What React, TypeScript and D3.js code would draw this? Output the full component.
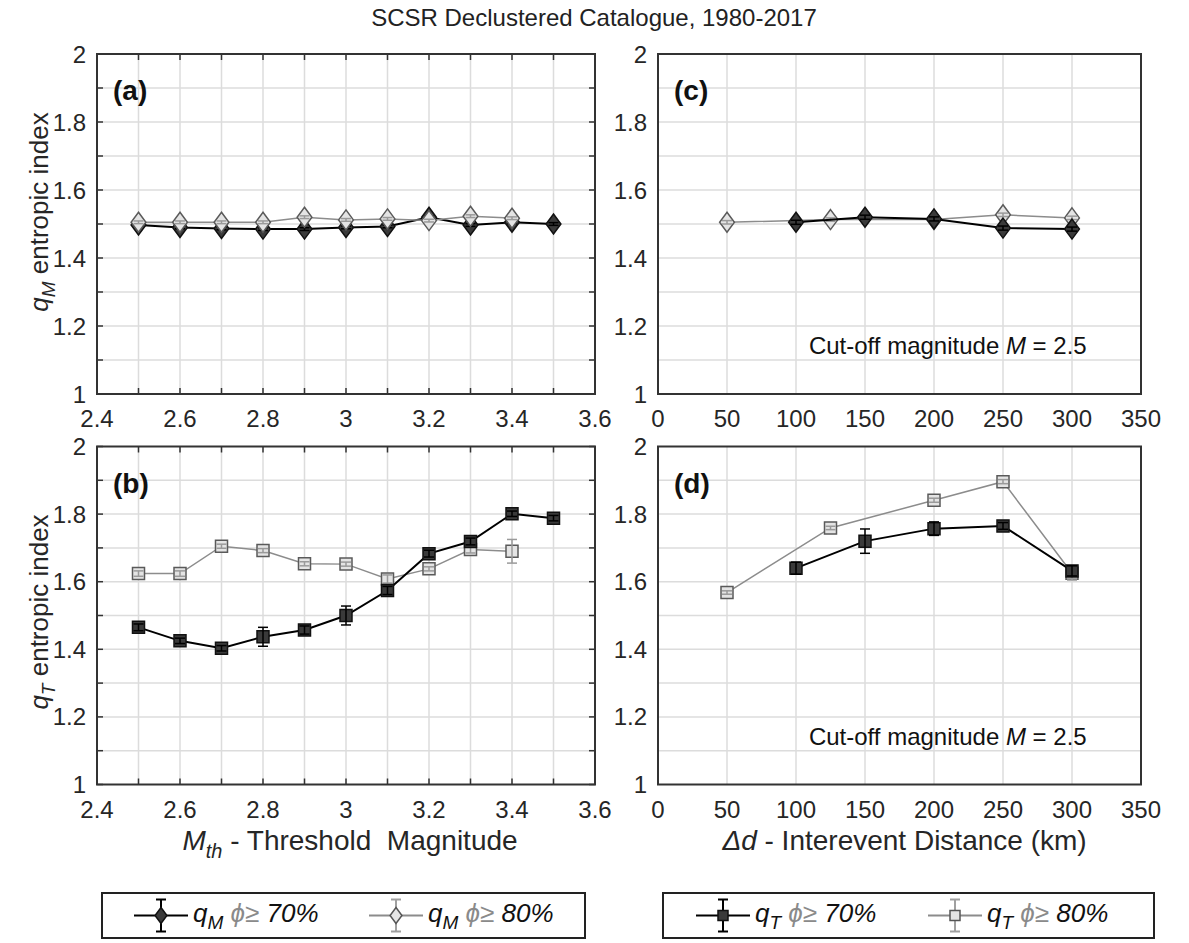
import React from "react";
import * as d3 from "d3";

// ---------------- DATA ----------------
const mthAll = [2.5, 2.6, 2.7, 2.8, 2.9, 3.0, 3.1, 3.2, 3.3, 3.4, 3.5];
const mth80 = [2.5, 2.6, 2.7, 2.8, 2.9, 3.0, 3.1, 3.2, 3.3, 3.4];

const qM70 = [1.497, 1.49, 1.487, 1.485, 1.485, 1.49, 1.493, 1.52, 1.497, 1.505, 1.5];
const qM70err = [0.004, 0.004, 0.004, 0.004, 0.004, 0.004, 0.004, 0.004, 0.004, 0.004, 0.004];
const qM80 = [1.505, 1.505, 1.505, 1.505, 1.52, 1.512, 1.515, 1.51, 1.523, 1.517];
const qM80err = [0.004, 0.004, 0.004, 0.004, 0.004, 0.004, 0.004, 0.004, 0.004, 0.004];

const qT70 = [1.465, 1.425, 1.403, 1.437, 1.457, 1.5, 1.574, 1.683, 1.719, 1.801, 1.788];
const qT70err = [0.01, 0.008, 0.008, 0.028, 0.012, 0.028, 0.012, 0.01, 0.01, 0.008, 0.008];
const qT80 = [1.624, 1.624, 1.705, 1.692, 1.653, 1.652, 1.608, 1.638, 1.695, 1.69];
const qT80err = [0.008, 0.008, 0.006, 0.006, 0.006, 0.006, 0.012, 0.006, 0.01, 0.035];

const dist70 = [100, 150, 200, 250, 300];
const dist80 = [50, 125, 200, 250, 300];
const qMd70 = [1.505, 1.52, 1.515, 1.488, 1.485];
const qMd70err = [0.006, 0.006, 0.006, 0.006, 0.006];
const qMd80 = [1.505, 1.513, 1.513, 1.527, 1.518];
const qMd80err = [0.005, 0.005, 0.005, 0.005, 0.005];

const qTd70 = [1.64, 1.72, 1.757, 1.765, 1.632];
const qTd70err = [0.018, 0.036, 0.02, 0.01, 0.015];
const qTd80 = [1.568, 1.759, 1.841, 1.896, 1.625];
const qTd80err = [0.005, 0.005, 0.006, 0.006, 0.02];

const mthTicks = [2.4, 2.6, 2.8, 3.0, 3.2, 3.4, 3.6];
const mthGrid = [2.5, 2.6, 2.7, 2.8, 2.9, 3.0, 3.1, 3.2, 3.3, 3.4, 3.5];
const distTicks = [0, 50, 100, 150, 200, 250, 300, 350];
const qTicks = [1, 1.2, 1.4, 1.6, 1.8, 2];
const qGrid = [1.1, 1.2, 1.3, 1.4, 1.5, 1.6, 1.7, 1.8, 1.9];

const TITLE = "SCSR Declustered Catalogue, 1980-2017";
const CUTOFF = "Cut-off magnitude";

// ---------------- LAYOUT ----------------
const W = 1189;
const H = 943;
const FONT = "'Liberation Sans', Arial, Helvetica, sans-serif";
const TXT = "#262626";
const GRID = "#dcdcdc";
const DARK_FILL = "#3a3a3a";
const LIGHT_FILL = "#e4e4e4";
const LIGHT_LINE = "#8c8c8c";

const leftX: [number, number] = [97, 595];
const rightX: [number, number] = [658, 1141];
const topY: [number, number] = [394, 54];
const botY: [number, number] = [784.5, 446.5];

type Series = {
  xs: number[];
  ys: number[];
  errs: number[];
  dark: boolean;
  marker: "diamond" | "square";
};

function markerPath(kind: "diamond" | "square", s: number) {
  if (kind === "diamond") {
    const w = s * 0.74;
    const h = s;
    return `M0,${-h / 2}L${w / 2},0L0,${h / 2}L${-w / 2},0Z`;
  }
  const a = s / 2;
  return `M${-a},${-a}H${a}V${a}H${-a}Z`;
}

function SeriesG({ s, x, y }: { s: Series; x: d3.ScaleLinear<number, number>; y: d3.ScaleLinear<number, number> }) {
  const line = d3
    .line<number>()
    .x((_, i) => x(s.xs[i]))
    .y((v) => y(v));
  const stroke = s.dark ? "#000" : LIGHT_LINE;
  const mStroke = s.dark ? "#111" : "#5a5a5a";
  const fill = s.dark ? DARK_FILL : LIGHT_FILL;
  const size = s.marker === "diamond" ? 20 : 12;
  const cap = 5;
  return (
    <g>
      <path d={line(s.ys) || ""} fill="none" stroke={stroke} strokeWidth={s.dark ? 2 : 1.5} />
      {s.ys.map((v, i) => (
        <path
          key={"m" + i}
          d={markerPath(s.marker, size)}
          transform={`translate(${x(s.xs[i])},${y(v)})`}
          fill={fill}
          stroke={mStroke}
          strokeWidth={1.5}
        />
      ))}
      {s.ys.map((v, i) => {
        const cx = x(s.xs[i]);
        const y1 = y(v - s.errs[i]);
        const y2 = y(v + s.errs[i]);
        return (
          <g key={"e" + i} stroke={s.dark ? "#000" : "#9a9a9a"} strokeWidth={1.5}>
            <line x1={cx} x2={cx} y1={y1} y2={y2} />
            <line x1={cx - cap} x2={cx + cap} y1={y1} y2={y1} />
            <line x1={cx - cap} x2={cx + cap} y1={y2} y2={y2} />
          </g>
        );
      })}
    </g>
  );
}

function Panel({
  xDomain,
  xRange,
  yRange,
  xTicks,
  xGrid,
  series,
  label,
  ticksOnBox,
  note,
}: {
  xDomain: [number, number];
  xRange: [number, number];
  yRange: [number, number];
  xTicks: number[];
  xGrid: number[];
  series: Series[];
  label: string;
  ticksOnBox: boolean;
  note: boolean;
}) {
  const x = d3.scaleLinear().domain(xDomain).range(xRange);
  const y = d3.scaleLinear().domain([1, 2]).range(yRange);
  const [x0, x1] = xRange;
  const [yb, yt] = yRange;
  const minorX = ticksOnBox ? d3.range(xDomain[0], xDomain[1] + 1e-9, 0.1) : [];
  const minorY = ticksOnBox ? d3.range(1, 2 + 1e-9, 0.1) : [];
  const fmt = (v: number) => d3.format("~g")(+v.toFixed(2));
  return (
    <g>
      {xGrid.map((v) => (
        <line key={"gx" + v} x1={x(v)} x2={x(v)} y1={yt} y2={yb} stroke={GRID} strokeWidth={1.5} />
      ))}
      {qGrid.map((v) => (
        <line key={"gy" + v} x1={x0} x2={x1} y1={y(v)} y2={y(v)} stroke={GRID} strokeWidth={1.5} />
      ))}
      {minorX.map((v, i) => (
        <g key={"tx" + i} stroke="#333" strokeWidth={1.5}>
          <line x1={x(v)} x2={x(v)} y1={yt} y2={yt + 6} />
          <line x1={x(v)} x2={x(v)} y1={yb} y2={yb - 6} />
        </g>
      ))}
      {minorY.map((v, i) => (
        <g key={"ty" + i} stroke="#333" strokeWidth={1.5}>
          <line x1={x0} x2={x0 + 6} y1={y(v)} y2={y(v)} />
          <line x1={x1} x2={x1 - 6} y1={y(v)} y2={y(v)} />
        </g>
      ))}
      <rect x={x0} y={yt} width={x1 - x0} height={yb - yt} fill="none" stroke="#333" strokeWidth={2} />
      {xTicks.map((v) => (
        <text key={"lx" + v} x={x(v)} y={yb + 33} textAnchor="middle" fontSize={24} fill={TXT} fontFamily={FONT}>
          {fmt(v)}
        </text>
      ))}
      {qTicks.map((v) => (
        <text key={"ly" + v} x={x0 - 11} y={y(v) + 8.5} textAnchor="end" fontSize={24} fill={TXT} fontFamily={FONT}>
          {fmt(v)}
        </text>
      ))}
      {series.map((s, i) => (
        <SeriesG key={"s" + i} s={s} x={x} y={y} />
      ))}
      <text x={x0 + 16} y={yt + 46} fontSize={28} fontWeight="bold" fill="#111" fontFamily={FONT}>
        {label}
      </text>
      {note && (
        <text x={x(210)} y={y(1.14) + 8} textAnchor="middle" fontSize={24} fill="#111" fontFamily={FONT}>
          {CUTOFF + " "}
          <tspan fontStyle="italic">M</tspan>
          {" = 2.5"}
        </text>
      )}
    </g>
  );
}

function LegendItem({
  cx,
  cy,
  dark,
  marker,
  sub,
  pct,
}: {
  cx: number;
  cy: number;
  dark: boolean;
  marker: "diamond" | "square";
  sub: string;
  pct: string;
}) {
  const stroke = dark ? "#000" : "#8c8c8c";
  return (
    <g>
      <line x1={cx - 27} x2={cx + 27} y1={cy} y2={cy} stroke={stroke} strokeWidth={2} />
      <g stroke={dark ? "#000" : "#a0a0a0"} strokeWidth={2}>
        <line x1={cx} x2={cx} y1={cy - 16} y2={cy + 16} />
        <line x1={cx - 5} x2={cx + 5} y1={cy - 16} y2={cy - 16} />
        <line x1={cx - 5} x2={cx + 5} y1={cy + 16} y2={cy + 16} />
      </g>
      <path
        d={markerPath(marker, marker === "diamond" ? 16 : 10)}
        transform={`translate(${cx},${cy})`}
        fill={dark ? DARK_FILL : LIGHT_FILL}
        stroke={dark ? "#111" : "#555"}
        strokeWidth={1.5}
      />
      <text x={cx + 32} y={cy + 6} fontSize={26} fontStyle="italic" fill="#111" fontFamily={FONT} style={{ whiteSpace: "pre" }}>
        q
        <tspan fontSize={19} dy={7}>
          {sub}
        </tspan>
        <tspan dy={-7} fill="#8a8a8a">
          {" ϕ≥"}
        </tspan>
        <tspan>{" " + pct}</tspan>
      </text>
    </g>
  );
}

export default function App() {
  const panelA: Series[] = [
    { xs: mthAll, ys: qM70, errs: qM70err, dark: true, marker: "diamond" },
    { xs: mth80, ys: qM80, errs: qM80err, dark: false, marker: "diamond" },
  ];
  const panelB: Series[] = [
    { xs: mth80, ys: qT80, errs: qT80err, dark: false, marker: "square" },
    { xs: mthAll, ys: qT70, errs: qT70err, dark: true, marker: "square" },
  ];
  const panelC: Series[] = [
    { xs: dist80, ys: qMd80, errs: qMd80err, dark: false, marker: "diamond" },
    { xs: dist70, ys: qMd70, errs: qMd70err, dark: true, marker: "diamond" },
  ];
  const panelD: Series[] = [
    { xs: dist80, ys: qTd80, errs: qTd80err, dark: false, marker: "square" },
    { xs: dist70, ys: qTd70, errs: qTd70err, dark: true, marker: "square" },
  ];

  return (
    <svg width={W} height={H} viewBox={`0 0 ${W} ${H}`} style={{ position: "absolute", left: 0, top: 0, background: "#fff" }}>
      <rect x={0} y={0} width={W} height={H} fill="#fff" />
      <text x={594} y={26} textAnchor="middle" fontSize={24} fill="#222" fontFamily={FONT}>
        {TITLE}
      </text>

      <Panel xDomain={[2.4, 3.6]} xRange={leftX} yRange={topY} xTicks={mthTicks} xGrid={mthGrid} series={panelA} label="(a)" ticksOnBox={true} note={false} />
      <Panel xDomain={[2.4, 3.6]} xRange={leftX} yRange={botY} xTicks={mthTicks} xGrid={mthGrid} series={panelB} label="(b)" ticksOnBox={true} note={false} />
      <Panel xDomain={[0, 350]} xRange={rightX} yRange={topY} xTicks={distTicks} xGrid={distTicks} series={panelC} label="(c)" ticksOnBox={false} note={true} />
      <Panel xDomain={[0, 350]} xRange={rightX} yRange={botY} xTicks={distTicks} xGrid={distTicks} series={panelD} label="(d)" ticksOnBox={false} note={true} />

      <text transform={`translate(48,212) rotate(-90)`} textAnchor="middle" fontSize={26} fill={TXT} fontFamily={FONT}>
        <tspan fontStyle="italic">q</tspan>
        <tspan fontStyle="italic" fontSize={19} dy={7}>M</tspan>
        <tspan dy={-7}>{" entropic index"}</tspan>
      </text>
      <text transform={`translate(48,612) rotate(-90)`} textAnchor="middle" fontSize={26} fill={TXT} fontFamily={FONT}>
        <tspan fontStyle="italic">q</tspan>
        <tspan fontStyle="italic" fontSize={19} dy={7}>T</tspan>
        <tspan dy={-7}>{" entropic index"}</tspan>
      </text>

      <text x={(leftX[0] + leftX[1]) / 2 + 4} y={850} textAnchor="middle" fontSize={28} fill={TXT} fontFamily={FONT} style={{ whiteSpace: "pre" }}>
        <tspan fontStyle="italic">M</tspan>
        <tspan fontStyle="italic" fontSize={20} dy={8}>th</tspan>
        <tspan dy={-8}>{" - Threshold  Magnitude"}</tspan>
      </text>
      <text x={(rightX[0] + rightX[1]) / 2 + 5} y={850} textAnchor="middle" fontSize={28} fill={TXT} fontFamily={FONT}>
        <tspan fontStyle="italic">Δd</tspan>
        <tspan>{" - Interevent Distance (km)"}</tspan>
      </text>

      <rect x={102} y={893} width={483} height={45} fill="#fff" stroke="#222" strokeWidth={2} />
      <LegendItem cx={161} cy={915.5} dark={true} marker="diamond" sub="M" pct="70%" />
      <LegendItem cx={396} cy={915.5} dark={false} marker="diamond" sub="M" pct="80%" />

      <rect x={663} y={893} width={491} height={45} fill="#fff" stroke="#222" strokeWidth={2} />
      <LegendItem cx={723} cy={915.5} dark={true} marker="square" sub="T" pct="70%" />
      <LegendItem cx={955} cy={915.5} dark={false} marker="square" sub="T" pct="80%" />
    </svg>
  );
}
